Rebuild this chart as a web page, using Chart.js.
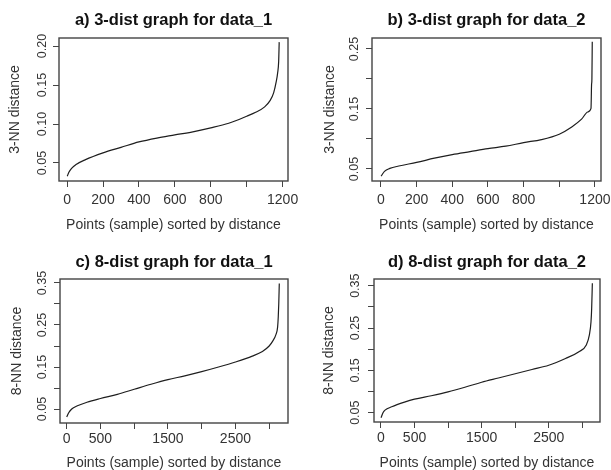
<!DOCTYPE html>
<html>
<head>
<meta charset="utf-8">
<script src="https://cdn.jsdelivr.net/npm/chart.js@4.4.1/dist/chart.umd.min.js"></script>
<style>
  html, body { margin: 0; padding: 0; background: #fff; overflow: hidden; }
  #wrap { position: relative; width: 611px; height: 470px; overflow: hidden; }
  canvas { position: absolute; }
</style>
</head>
<body>
<div id="wrap">
  <canvas id="pa" width="305" height="235" style="left:0;top:0"></canvas>
  <canvas id="pb" width="306" height="235" style="left:305px;top:0"></canvas>
  <canvas id="pc" width="305" height="240" style="left:0;top:235px"></canvas>
  <canvas id="pd" width="306" height="240" style="left:305px;top:235px"></canvas>
</div>
<script>
// texts
const titles = ['a) 3-dist graph for data_1', 'b) 3-dist graph for data_2',
                'c) 8-dist graph for data_1', 'd) 8-dist graph for data_2'];
const yTitles = ['3-NN distance', '3-NN distance', '8-NN distance', '8-NN distance'];
const xTitle = 'Points (sample) sorted by distance';

// sorted k-dist curves
const d1k3X = [1, 10, 25, 50, 100, 200, 300, 400, 500, 600, 700, 800, 900, 1000, 1050, 1100, 1130, 1150, 1165, 1172, 1178, 1181];
const d1k3Y = [0.033, 0.038, 0.043, 0.048, 0.054, 0.063, 0.070, 0.077, 0.082, 0.086, 0.090, 0.095, 0.101, 0.110, 0.115, 0.122, 0.130, 0.140, 0.155, 0.165, 0.180, 0.205];

const d2k3X = [1, 20, 50, 100, 200, 300, 400, 500, 600, 700, 800, 900, 1000, 1070, 1125, 1160, 1178, 1181, 1183, 1185];
const d2k3Y = [0.038, 0.046, 0.051, 0.055, 0.061, 0.068, 0.074, 0.079, 0.084, 0.088, 0.094, 0.099, 0.108, 0.120, 0.133, 0.145, 0.151, 0.190, 0.200, 0.262];

const d1k8X = [1, 30, 75, 150, 300, 500, 750, 1000, 1250, 1500, 1750, 2000, 2250, 2500, 2750, 2900, 3000, 3050, 3100, 3125, 3135, 3142, 3150];
const d1k8Y = [0.031, 0.041, 0.050, 0.057, 0.066, 0.075, 0.085, 0.097, 0.109, 0.120, 0.129, 0.139, 0.150, 0.162, 0.176, 0.187, 0.200, 0.211, 0.227, 0.245, 0.270, 0.300, 0.349];

const d2k8X = [1, 30, 60, 160, 350, 500, 750, 1000, 1250, 1500, 1750, 2000, 2250, 2500, 2750, 2950, 3060, 3105, 3130, 3140, 3150];
const d2k8Y = [0.038, 0.050, 0.056, 0.064, 0.075, 0.082, 0.090, 0.099, 0.110, 0.122, 0.132, 0.142, 0.152, 0.162, 0.178, 0.194, 0.210, 0.233, 0.265, 0.297, 0.356];

// ticks (empty label = tick drawn, label dropped as in R)
const xTicks1200 = [0, 200, 400, 600, 800, 1000, 1200];
const xLabels1200 = ['0', '200', '400', '600', '800', '', '1200'];
const xTicks3000 = [0, 500, 1000, 1500, 2000, 2500, 3000];
const xLabels3000 = ['0', '500', '', '1500', '', '2500', ''];
const yTicksA = [0.05, 0.10, 0.15, 0.20];
const yLabelsA = ['0.05', '0.10', '0.15', '0.20'];
const yTicksB = [0.05, 0.10, 0.15, 0.20, 0.25];
const yLabelsB = ['0.05', '', '0.15', '', '0.25'];
const yTicksC = [0.05, 0.10, 0.15, 0.20, 0.25, 0.30, 0.35];
const yLabelsC = ['0.05', '', '0.15', '', '0.25', '', '0.35'];

Chart.defaults.font.family = '"Liberation Sans", Arial, sans-serif';
Chart.defaults.color = '#333';

const panels = [
  { id: 'pa', title: titles[0], yTitle: yTitles[0], xs: d1k3X, ys: d1k3Y,
    xTicks: xTicks1200, xLabels: xLabels1200, yTicks: yTicksA, yLabels: yLabelsA,
    xMin: -45, xMax: 1230, yMin: 0.0269, yMax: 0.2103,
    box: { l: 59, t: 38, r: 288, b: 181 }, titleMid: 20.8, xLabPad: 4.5, xTitleMid: 224.8, yTitleMid: 15.5, yLabX: 46 },
  { id: 'pb', title: titles[1], yTitle: yTitles[1], xs: d2k3X, ys: d2k3Y,
    xTicks: xTicks1200, xLabels: xLabels1200, yTicks: yTicksB, yLabels: yLabelsB,
    xMin: -50, xMax: 1234, yMin: 0.030, yMax: 0.2683,
    box: { l: 67, t: 38, r: 296, b: 181 }, titleMid: 20.8, xLabPad: 4.5, xTitleMid: 224.8, yTitleMid: 25, yLabX: 53 },
  { id: 'pc', title: titles[2], yTitle: yTitles[2], xs: d1k8X, ys: d1k8Y,
    xTicks: xTicks3000, xLabels: xLabels3000, yTicks: yTicksC, yLabels: yLabelsC,
    xMin: -99, xMax: 3279, yMin: 0.0167, yMax: 0.3595,
    box: { l: 60, t: 44, r: 288, b: 188 }, titleMid: 27.3, xLabPad: 1.7, xTitleMid: 228.2, yTitleMid: 17.5, yLabX: 46 },
  { id: 'pd', title: titles[3], yTitle: yTitles[3], xs: d2k8X, ys: d2k8Y,
    xTicks: xTicks3000, xLabels: xLabels3000, yTicks: yTicksC, yLabels: yLabelsC,
    xMin: -104, xMax: 3264, yMin: 0.028, yMax: 0.3658,
    box: { l: 69, t: 44, r: 295, b: 187 }, titleMid: 27.3, xLabPad: 1.9, xTitleMid: 228.2, yTitleMid: 24.5, yLabX: 54 }
];

// R style: closed box round the plot and y labels turned along the axis
function rStyle(p) {
  return {
    id: 'rstyle_' + p.id,
    afterDraw(chart) {
      const { ctx, chartArea: a } = chart;
      const ys = chart.scales.y;
      ctx.save();
      ctx.strokeStyle = '#444';
      ctx.lineWidth = 1.4;
      ctx.strokeRect(a.left, a.top, a.right - a.left, a.bottom - a.top);
      ctx.fillStyle = '#333';
      ctx.font = '12.5px "Liberation Sans", Arial, sans-serif';
      ctx.textAlign = 'center';
      ctx.textBaseline = 'alphabetic';
      p.yTicks.forEach((v, i) => {
        if (!p.yLabels[i]) return;
        ctx.save();
        ctx.translate(p.yLabX, ys.getPixelForValue(v));
        ctx.rotate(-Math.PI / 2);
        ctx.fillText(p.yLabels[i], 0, 0);
        ctx.restore();
      });
      ctx.restore();
    }
  };
}

panels.forEach(p => {
  const canvas = document.getElementById(p.id);
  const W = canvas.width, H = canvas.height;
  const grid = { drawOnChartArea: false, drawTicks: true, tickLength: 6, color: '#444', lineWidth: 1 };

  new Chart(canvas, {
    type: 'scatter',
    data: {
      datasets: [{
        data: p.xs.map((x, i) => ({ x: x, y: p.ys[i] })),
        showLine: true,
        borderColor: '#1e1e1e',
        borderWidth: 1.2,
        pointRadius: 0,
        cubicInterpolationMode: 'monotone'
      }]
    },
    plugins: [rStyle(p)],
    options: {
      responsive: false,
      animation: false,
      devicePixelRatio: 1,
      events: [],
      layout: { padding: { left: 0, top: 0, right: W - p.box.r, bottom: 0 } },
      plugins: {
        legend: { display: false },
        tooltip: { enabled: false },
        title: {
          display: true,
          text: p.title,
          fullSize: false,
          color: '#111',
          font: { size: 16.5, weight: 'bold', lineHeight: 1.2 },
          padding: { top: p.titleMid - 9.9, bottom: p.box.t - p.titleMid - 9.9 }
        }
      },
      scales: {
        x: {
          type: 'linear',
          min: p.xMin,
          max: p.xMax,
          grid: grid,
          border: { display: false },
          afterBuildTicks: s => { s.ticks = p.xTicks.map(v => ({ value: v })); },
          afterFit: s => {
            s.height = H - p.box.b;
            s.paddingLeft = 0; s.paddingRight = 0; s.paddingTop = 0; s.paddingBottom = 0;
          },
          ticks: {
            autoSkip: false,
            maxRotation: 0,
            padding: p.xLabPad,
            color: '#333',
            font: { size: 14, lineHeight: 1.2 },
            callback: (v, i) => p.xLabels[i]
          },
          title: {
            display: true,
            text: xTitle,
            color: '#333',
            font: { size: 14, lineHeight: 1.2 },
            padding: { top: 0, bottom: H - p.xTitleMid - 8.4 }
          }
        },
        y: {
          type: 'linear',
          min: p.yMin,
          max: p.yMax,
          grid: grid,
          border: { display: false },
          afterBuildTicks: s => { s.ticks = p.yTicks.map(v => ({ value: v })); },
          afterFit: s => {
            s.width = p.box.l;
            s.paddingLeft = 0; s.paddingRight = 0; s.paddingTop = 0; s.paddingBottom = 0;
          },
          ticks: { display: false },
          title: {
            display: true,
            text: p.yTitle,
            color: '#333',
            font: { size: 14, lineHeight: 1.2 },
            padding: { top: p.yTitleMid - 8.4, bottom: 0 }
          }
        }
      }
    }
  });
});
</script>
</body>
</html>
